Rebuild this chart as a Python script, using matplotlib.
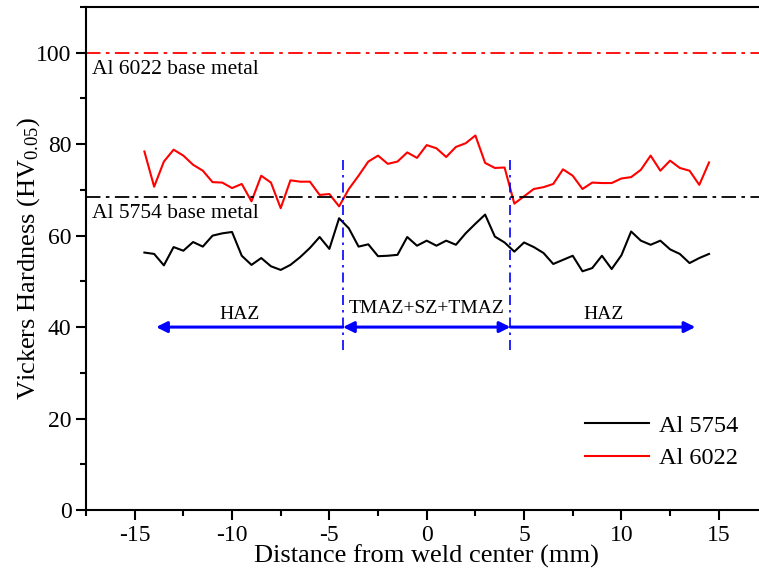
import numpy as np
import matplotlib
matplotlib.use("Agg")
import matplotlib.pyplot as plt
from matplotlib.ticker import MultipleLocator

plt.rcParams['font.family'] = ['Liberation Serif', 'DejaVu Serif']
plt.rcParams['mathtext.fontset'] = 'custom'
plt.rcParams['mathtext.rm'] = 'Liberation Serif'
plt.rcParams['mathtext.it'] = 'Liberation Serif:italic'
plt.rcParams['axes.unicode_minus'] = False

# ---- data ----
distance = np.arange(-14.5, 14.51, 0.5)
al5754 = [56.3, 56.0, 53.5, 57.5, 56.7, 58.6, 57.6, 60.0, 60.5, 60.8,
          55.6, 53.6, 55.1, 53.3, 52.5, 53.6, 55.3, 57.3, 59.7, 57.1,
          63.8, 61.6, 57.6, 58.1, 55.5, 55.6, 55.8, 59.7, 57.8, 58.9,
          57.8, 58.9, 58.0, 60.5, 62.6, 64.6, 59.8, 58.5, 56.5, 58.5,
          57.5, 56.2, 53.8, 54.7, 55.6, 52.2, 52.9, 55.6, 52.7, 55.7,
          60.9, 58.9, 58.0, 58.9, 57.0, 56.0, 54.0, 55.1, 56.0]
al6022 = [78.4, 70.7, 76.2, 78.8, 77.5, 75.5, 74.2, 71.7, 71.6, 70.4,
          71.3, 67.5, 73.1, 71.6, 66.0, 72.1, 71.8, 71.8, 68.9, 69.1,
          66.4, 70.2, 73.1, 76.2, 77.5, 75.7, 76.2, 78.2, 77.0, 79.8,
          79.1, 77.2, 79.4, 80.2, 81.9, 75.9, 74.8, 74.9, 67.0, 68.6,
          70.2, 70.6, 71.3, 74.5, 73.1, 70.2, 71.6, 71.5, 71.5, 72.5,
          72.8, 74.4, 77.5, 74.2, 76.4, 74.8, 74.2, 71.1, 76.0]
base_6022 = 100.0
base_5754 = 68.5
zone_bounds = [-4.3, 4.3]
haz_left_end = -13.9
haz_right_end = 13.8
zone_labels = ["HAZ", "TMAZ+SZ+TMAZ", "HAZ"]

fig = plt.figure(figsize=(7.59, 5.79), dpi=100)
ax = fig.add_axes([0.1133, 0.1192, 0.8978, 0.8687])

ax.plot(distance, al5754, color='black', lw=1.5, label='Al 5754')
ax.plot(distance, al6022, color='red', lw=1.5, label='Al 6022')

ax.axhline(base_6022, color='red', lw=1.3, dashes=(8, 3, 2, 3))
ax.axhline(base_5754, color='black', lw=1.3, dashes=(8, 3, 2, 3))
ax.text(-17.2, 98.4, 'Al 6022 base metal', fontsize=15.5, va='top', ha='left')
ax.text(-17.2, 66.9, 'Al 5754 base metal', fontsize=15.5, va='top', ha='left')

for xb in zone_bounds:
    ax.plot([xb, xb], [35, 77], color='blue', lw=1.2, dashes=(6, 3, 1.5, 3))

arrow_y = 40
akw = dict(color='blue', lw=2.2, shrinkA=0, shrinkB=0, mutation_scale=16)
ax.annotate('', xy=(haz_left_end, arrow_y), xytext=(zone_bounds[0], arrow_y),
            arrowprops=dict(arrowstyle='-|>', **akw))
ax.annotate('', xy=(zone_bounds[0], arrow_y), xytext=(zone_bounds[1], arrow_y),
            arrowprops=dict(arrowstyle='<|-|>', **akw))
ax.annotate('', xy=(haz_right_end, arrow_y), xytext=(zone_bounds[1], arrow_y),
            arrowprops=dict(arrowstyle='-|>', **akw))
ax.text(-9.6, 42.8, zone_labels[0], fontsize=14, ha='center', va='center')
ax.text(0.0, 44.0, zone_labels[1], fontsize=14, ha='center', va='center')
ax.text(9.1, 42.8, zone_labels[2], fontsize=14, ha='center', va='center')

ax.set_xlim(-17.5, 17.5)
ax.set_ylim(0, 110)
ax.xaxis.set_major_locator(MultipleLocator(5))
ax.xaxis.set_minor_locator(MultipleLocator(2.5))
ax.yaxis.set_major_locator(MultipleLocator(20))
ax.yaxis.set_minor_locator(MultipleLocator(10))
ax.tick_params(which='major', direction='out', length=7, width=1.5, labelsize=17)
ax.tick_params(which='minor', direction='out', length=4, width=1.5)
for s in ax.spines.values():
    s.set_linewidth(1.5)

ax.set_xlabel('Distance from weld center (mm)', fontsize=19, labelpad=-1)
ax.set_ylabel('Vickers Hardness (HV$_{0.05}$)', fontsize=19, labelpad=-4)

leg = ax.legend(loc='lower right', bbox_to_anchor=(0.99, 0.037), frameon=False,
                fontsize=17.5, handlelength=2.6, handletextpad=0.45,
                labelspacing=0.45)

fig.savefig('out.png', dpi=100)
